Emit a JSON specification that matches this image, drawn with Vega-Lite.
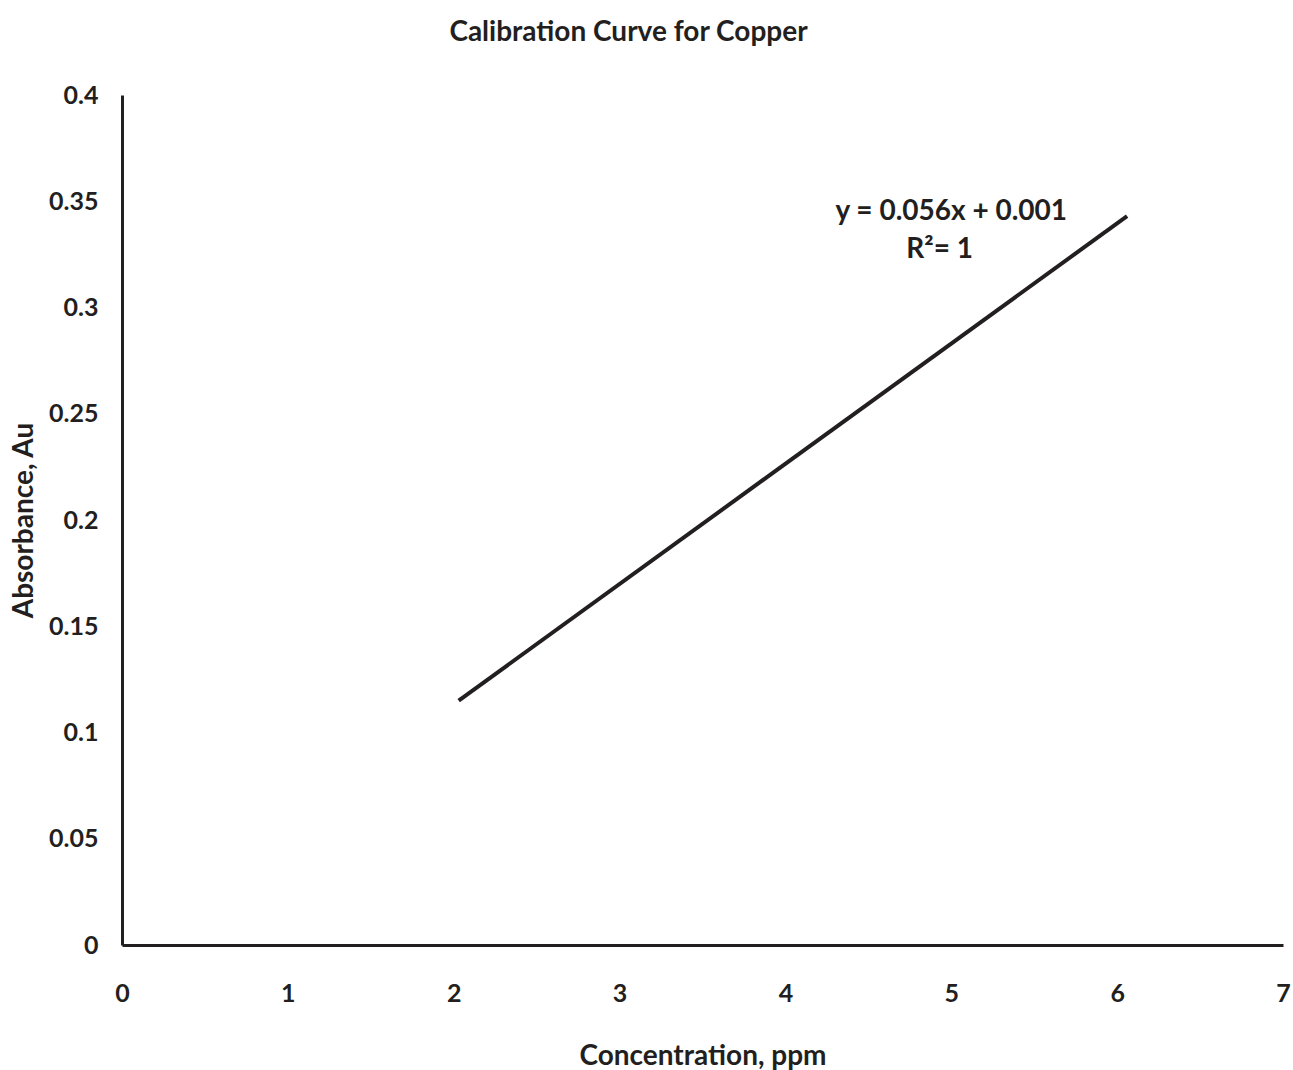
{
  "$schema": "https://vega.github.io/schema/vega-lite/v6.json",
  "autosize": "none",
  "width": 1161,
  "height": 850,
  "padding": {"left": 122, "top": 95, "right": 10, "bottom": 125},
  "background": "white",
  "title": {
    "text": "Calibration Curve for Copper",
    "font": "Lato",
    "fontSize": 28,
    "fontWeight": "bold",
    "color": "#231f20",
    "anchor": "middle",
    "dx": -74,
    "offset": 36
  },
  "config": {
    "view": {"stroke": null},
    "axis": {
      "grid": false,
      "ticks": false,
      "domainColor": "#231f20",
      "domainWidth": 3,
      "labelFont": "Lato",
      "labelFontSize": 25,
      "labelFontWeight": "bold",
      "labelColor": "#231f20",
      "titleFont": "Lato",
      "titleFontSize": 28,
      "titleFontWeight": "bold",
      "titleColor": "#231f20"
    }
  },
  "datasets": {
    "fit": [
      {"conc": 2.03, "abs": 0.115},
      {"conc": 6.06, "abs": 0.343}
    ],
    "ann": [
      {"label": "y = 0.056x + 0.001", "conc": 5.0, "abs": 0.345},
      {"label": "R²= 1", "conc": 4.93, "abs": 0.327}
    ]
  },
  "layer": [
    {
      "data": {"name": "fit"},
      "mark": {"type": "line", "color": "#231f20", "strokeWidth": 4},
      "encoding": {
        "x": {
          "field": "conc", "type": "quantitative",
          "scale": {"domain": [0, 7], "nice": false, "zero": true},
          "axis": {"values": [0, 1, 2, 3, 4, 5, 6, 7], "format": "d", "title": "Concentration, ppm", "labelPadding": 36, "titlePadding": 36, "labelFlush": false}
        },
        "y": {
          "field": "abs", "type": "quantitative",
          "scale": {"domain": [0, 0.4], "nice": false},
          "axis": {"values": [0, 0.05, 0.1, 0.15, 0.2, 0.25, 0.3, 0.35, 0.4], "format": ".2~f", "title": "Absorbance, Au", "labelPadding": 24, "titlePadding": 10, "labelFlush": false}
        }
      }
    },
    {
      "data": {"name": "ann"},
      "mark": {"type": "text", "font": "Lato", "fontSize": 28, "fontWeight": "bold", "color": "#231f20", "align": "center", "baseline": "middle"},
      "encoding": {
        "x": {"field": "conc", "type": "quantitative"},
        "y": {"field": "abs", "type": "quantitative"},
        "text": {"field": "label"}
      }
    }
  ]
}
